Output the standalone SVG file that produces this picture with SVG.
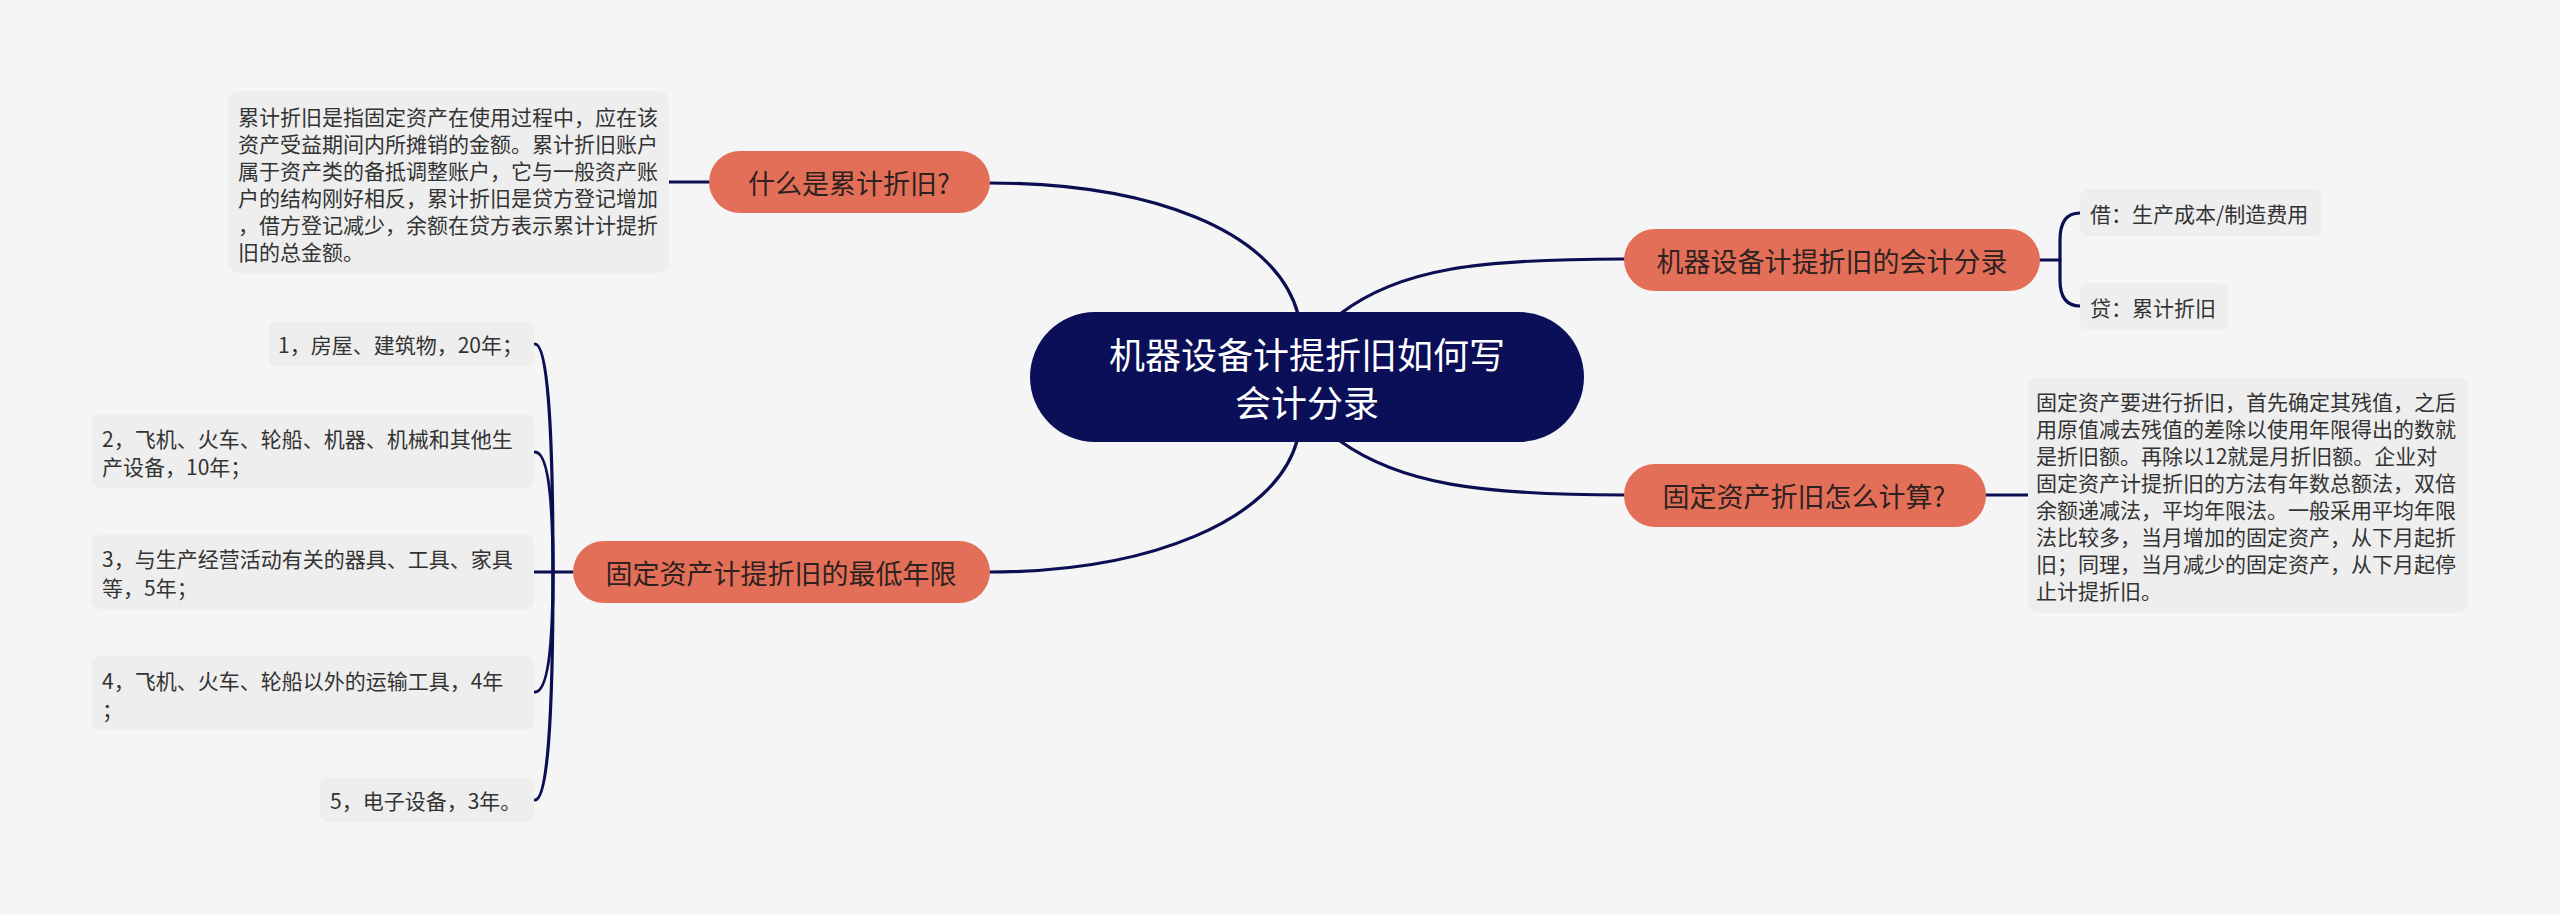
<svg xmlns="http://www.w3.org/2000/svg" width="2560" height="915" viewBox="0 0 2560 915">
<style>
text{font-family:"Noto Sans CJK SC","Noto Sans",sans-serif;dominant-baseline:central}
.line{fill:none;stroke:#0B0F52;stroke-width:3.2;stroke-linecap:round}
.branch{fill:#E46F59}
.btxt{font-size:27px;fill:#2E2220;text-anchor:middle}
.leaf{fill:#EEEEEE}
.ltxt{font-size:21px;fill:#333333}
.ctxt{font-size:36px;fill:#FFFFFF;text-anchor:middle}
</style>
<rect x="0" y="0" width="2560" height="915" fill="#F5F5F5"/>
<g id="connectors">
<path class="line" d="M1298 314 C1275 230 1150 183 989 183"/>
<path class="line" d="M1340 314 C1400 268 1480 259 1624 259"/>
<path class="line" d="M1340 441 C1400 484 1480 495 1624 495"/>
<path class="line" d="M1297 441 C1275 520 1150 572 989 572"/>
<path class="line" d="M669 182 L709 182"/>
<path class="line" d="M2040 260 L2060 260"/>
<path class="line" d="M2080 213 Q2060 213 2060 240 L2060 280 Q2060 306 2080 306"/>
<path class="line" d="M1986 495 L2028 495"/>
<path class="line" d="M534 572 L573 572"/>
<path class="line" d="M535 344 Q553 344 553 572"/>
<path class="line" d="M535 452 Q553 452 553 572"/>
<path class="line" d="M535 692 Q553 692 553 572"/>
<path class="line" d="M535 800 Q553 800 553 572"/>
</g>
<g id="center">
<rect x="1030" y="312" width="554" height="130" rx="65" fill="#0A0F58"/>
<text class="ctxt" x="1307" y="353">机器设备计提折旧如何写</text>
<text class="ctxt" x="1307" y="401">会计分录</text>
</g>
<g id="node-what">
<rect class="branch" x="709" y="151" width="281" height="62" rx="31"/>
<text class="btxt" x="849" y="182">什么是累计折旧?</text>
</g>
<g id="leaf-what">
<rect class="leaf" x="228" y="91" width="441" height="182" rx="10"/>
<text class="ltxt" x="238" y="116">累计折旧是指固定资产在使用过程中，应在该</text>
<text class="ltxt" x="238" y="143">资产受益期间内所摊销的金额。累计折旧账户</text>
<text class="ltxt" x="238" y="170">属于资产类的备抵调整账户，它与一般资产账</text>
<text class="ltxt" x="238" y="197">户的结构刚好相反，累计折旧是贷方登记增加</text>
<text class="ltxt" x="238" y="224">，借方登记减少，余额在贷方表示累计计提折</text>
<text class="ltxt" x="238" y="251">旧的总金额。</text>
</g>
<g id="node-entry">
<rect class="branch" x="1624" y="229" width="416" height="62" rx="31"/>
<text class="btxt" x="1832" y="260">机器设备计提折旧的会计分录</text>
</g>
<g id="leaf-debit">
<rect class="leaf" x="2080" y="189" width="242" height="47" rx="8"/>
<text class="ltxt" x="2090" y="213">借：生产成本/制造费用</text>
</g>
<g id="leaf-credit">
<rect class="leaf" x="2080" y="283" width="148" height="47" rx="8"/>
<text class="ltxt" x="2090" y="307">贷：累计折旧</text>
</g>
<g id="node-calc">
<rect class="branch" x="1624" y="464" width="362" height="63" rx="31"/>
<text class="btxt" x="1804" y="495">固定资产折旧怎么计算?</text>
</g>
<g id="leaf-calc">
<rect class="leaf" x="2028" y="377" width="440" height="236" rx="10"/>
<text class="ltxt" x="2036" y="401">固定资产要进行折旧，首先确定其残值，之后</text>
<text class="ltxt" x="2036" y="428">用原值减去残值的差除以使用年限得出的数就</text>
<text class="ltxt" x="2036" y="455">是折旧额。再除以12就是月折旧额。企业对</text>
<text class="ltxt" x="2036" y="482">固定资产计提折旧的方法有年数总额法，双倍</text>
<text class="ltxt" x="2036" y="509">余额递减法，平均年限法。一般采用平均年限</text>
<text class="ltxt" x="2036" y="536">法比较多，当月增加的固定资产，从下月起折</text>
<text class="ltxt" x="2036" y="563">旧；同理，当月减少的固定资产，从下月起停</text>
<text class="ltxt" x="2036" y="590">止计提折旧。</text>
</g>
<g id="node-min">
<rect class="branch" x="573" y="541" width="417" height="62" rx="31"/>
<text class="btxt" x="781" y="572">固定资产计提折旧的最低年限</text>
</g>
<g id="leaf-1">
<rect class="leaf" x="269" y="321" width="265" height="46" rx="8"/>
<text class="ltxt" x="278" y="344">1，房屋、建筑物，20年；</text>
</g>
<g id="leaf-2">
<rect class="leaf" x="92" y="414" width="442" height="74" rx="8"/>
<text class="ltxt" x="102" y="438">2，飞机、火车、轮船、机器、机械和其他生</text>
<text class="ltxt" x="102" y="466">产设备，10年；</text>
</g>
<g id="leaf-3">
<rect class="leaf" x="92" y="535" width="442" height="74" rx="8"/>
<text class="ltxt" x="102" y="558">3，与生产经营活动有关的器具、工具、家具</text>
<text class="ltxt" x="102" y="587">等，5年；</text>
</g>
<g id="leaf-4">
<rect class="leaf" x="92" y="656" width="442" height="74" rx="8"/>
<text class="ltxt" x="102" y="680">4，飞机、火车、轮船以外的运输工具，4年</text>
<text class="ltxt" x="102" y="709">；</text>
</g>
<g id="leaf-5">
<rect class="leaf" x="320" y="777" width="214" height="45" rx="8"/>
<text class="ltxt" x="330" y="800">5，电子设备，3年。</text>
</g>
</svg>
